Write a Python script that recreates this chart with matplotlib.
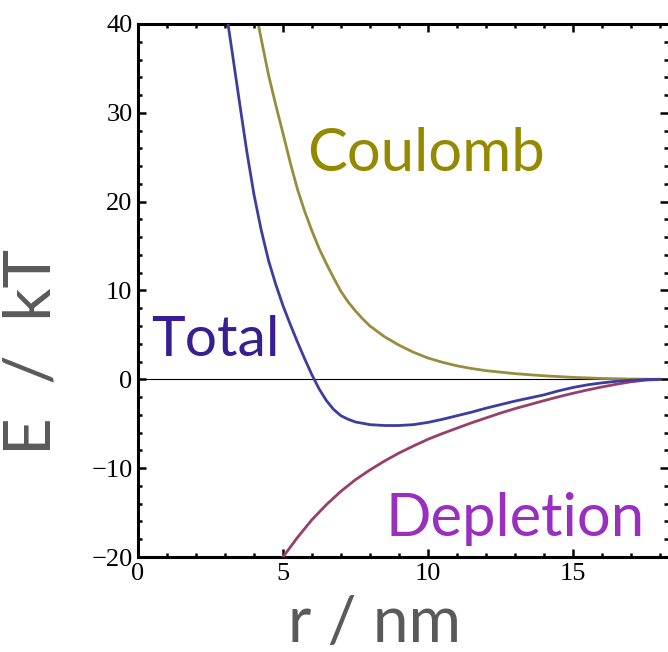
import matplotlib.pyplot as plt
from matplotlib.ticker import MultipleLocator

# values
r_total = [3.0, 3.25, 3.5, 3.75, 4.0, 4.25, 4.5, 4.75, 5.0, 5.25, 5.5, 5.75, 6.0,
           6.25, 6.5, 6.75, 7.0, 7.25, 7.5, 8.0, 8.5, 9.0, 9.5, 10.0, 10.5, 11.0,
           11.5, 12.0, 12.5, 13.0, 13.5, 14.0, 14.5, 15.0, 15.5, 16.0, 16.5, 17.0,
           17.5, 18.0]
e_total = [42.3, 36.8, 31.2, 25.7, 20.8, 16.8, 13.4, 10.7, 8.3, 6.2, 4.2, 2.3, 0.5,
           -1.1, -2.4, -3.4, -4.1, -4.5, -4.8, -5.1, -5.2, -5.2, -5.1, -4.85, -4.5, -4.1,
           -3.7, -3.25, -2.85, -2.45, -2.1, -1.75, -1.3, -0.92, -0.62, -0.4, -0.22, -0.1,
           -0.03, 0.0]

r_coul = [4.0, 4.25, 4.5, 4.75, 5.0, 5.25, 5.5, 5.75, 6.0, 6.25, 6.5, 6.75, 7.0,
          7.25, 7.5, 7.75, 8.0, 8.5, 9.0, 9.5, 10.0, 10.5, 11.0, 11.5, 12.0, 13.0,
          14.0, 15.0, 16.0, 17.0, 18.0]
e_coul = [42.5, 38.3, 34.3, 30.9, 27.7, 24.4, 21.4, 18.9, 16.7, 14.7, 13.0, 11.4, 9.9,
          8.7, 7.7, 6.8, 6.0, 4.8, 3.85, 3.05, 2.4, 1.92, 1.52, 1.22, 0.98, 0.64,
          0.4, 0.22, 0.1, 0.03, 0.0]

r_depl = [4.9, 5.0, 5.25, 5.5, 5.75, 6.0, 6.5, 7.0, 7.5, 8.0, 8.5, 9.0, 9.5, 10.0,
          10.5, 11.0, 11.5, 12.0, 12.5, 13.0, 13.5, 14.0, 14.5, 15.0, 15.5, 16.0,
          16.5, 17.0, 17.5, 18.0]
e_depl = [-20.5, -20.0, -18.9, -17.8, -16.8, -15.8, -14.1, -12.6, -11.3, -10.2, -9.2,
          -8.3, -7.5, -6.75, -6.1, -5.5, -4.9, -4.35, -3.8, -3.3, -2.85, -2.4, -1.97,
          -1.57, -1.2, -0.86, -0.55, -0.28, -0.09, 0.0]

labels = ['Total', 'Coulomb', 'Depletion']

fig = plt.figure(figsize=(6.68, 6.52), dpi=100)
ax = fig.add_axes([138 / 668, 1 - 557 / 652, 530 / 668, 533 / 652])

ax.axhline(0, color='black', lw=0.8, zorder=1)
ax.plot(r_coul, e_coul, color='#998c3d', lw=2.0, zorder=2)
ax.plot(r_depl, e_depl, color='#993d6b', lw=2.0, zorder=3)
ax.plot(r_total, e_total, color='#3d3da0', lw=2.0, zorder=4)

ax.set_xlim(0, 18.28)
ax.set_ylim(-20, 40)

ax.xaxis.set_major_locator(MultipleLocator(5))
ax.xaxis.set_minor_locator(MultipleLocator(1))
ax.yaxis.set_major_locator(MultipleLocator(10))
ax.yaxis.set_minor_locator(MultipleLocator(2))
ax.tick_params(which='both', direction='in', top=True, right=True, width=1.8,
               labelfontfamily='Liberation Serif', labelsize=19, pad=4)
ax.tick_params(which='major', length=5.5)
ax.tick_params(which='minor', length=3)
for side in ['left', 'bottom', 'top']:
    ax.spines[side].set_linewidth(2.2)
ax.spines['right'].set_visible(False)

gill = ['Lato', 'DejaVu Sans']
ax.text(5.83, 23.4, labels[1], color='#948a00', fontsize=43, family=gill)
ax.text(0.45, 2.6, labels[0], color='#391d94', fontsize=41, family=gill)
ax.text(8.52, -17.6, labels[2], color='#9a2fbf', fontsize=43, family=gill)

fig.text(375 / 668, 1 - 642 / 652, 'r / nm', color='#5a5a5a', fontsize=46,
         family=gill, ha='center', va='baseline')
fig.text(62 / 668, 1 - 352 / 652, 'E  /  kT', color='#5a5a5a', fontsize=47,
         family=gill, ha='right', va='center', rotation=90)

fig.savefig('out.png', dpi=100)
